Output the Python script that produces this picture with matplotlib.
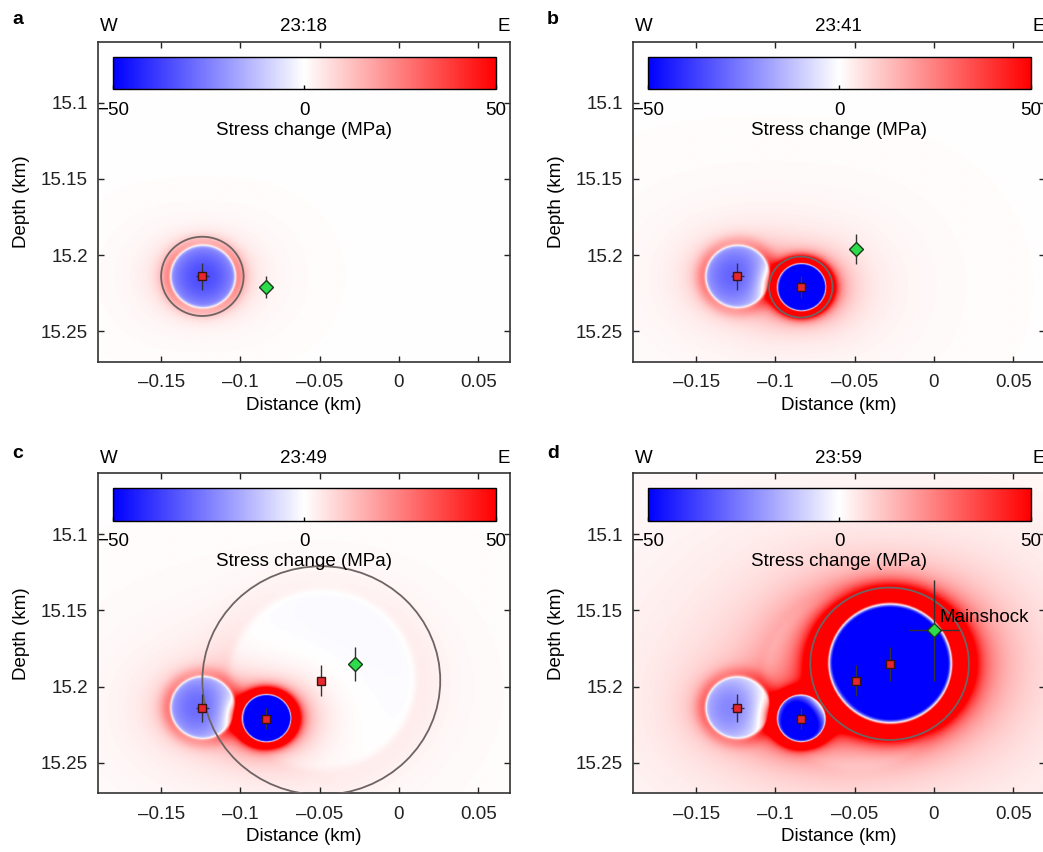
import numpy as np
import matplotlib
matplotlib.use('Agg')
import matplotlib.pyplot as plt
from matplotlib.patches import Circle

plt.rcParams['font.family'] = ['Liberation Sans', 'DejaVu Sans']
plt.rcParams['font.size'] = 13.5

# sub-events: hypocentre, rupture radius, stress drop, rim peak, far-field tail
ev_x = [-0.124, -0.084, -0.049, -0.028]
ev_z = [15.214, 15.221, 15.196, 15.185]
ev_r = [0.026, 0.020, 0.075, 0.050]
ev_drop = [35.0, 90.0, 2.5, 90.0]
ev_rim = [0.25, 0.55, 0.3, 0.55]
ev_tail = [0.45, 0.7, 0.9, 0.75]
ev_xerr = [0.004, 0.003, 0.002, 0.002]
ev_zerr = [0.009, 0.007, 0.010, 0.011]

main_x, main_z = 0.0, 15.163
main_xerr, main_zerr = 0.016, 0.033

times = ['23:18', '23:41', '23:49', '23:59']
letters = ['a', 'b', 'c', 'd']
xticks = [-0.15, -0.1, -0.05, 0, 0.05]
xticklabels = ['\u20130.15', '\u20130.1', '\u20130.05', '0', '0.05']
yticks = [15.1, 15.15, 15.2, 15.25]
yticklabels = ['15.1', '15.15', '15.2', '15.25']
xlim = (-0.19, 0.07)
ylim = (15.27, 15.06)


def stress(k, X, Z):
    dx, dz = X - ev_x[k], Z - ev_z[k]
    r = np.hypot(dx, dz) + 1e-9
    rho = r / ev_r[k]
    aniso = 1 + 0.35 * (dx ** 2 - dz ** 2) / r ** 2
    d = rho - 0.79
    dp = np.clip(d, 0, None)
    rise = 0.5 * (1 + np.tanh(d / 0.04))
    inner = -ev_drop[k] * (1 - 0.4 * (rho / 0.79) ** 2)
    outer = ev_drop[k] * (ev_rim[k] / (1 + (dp / 0.26) ** 4)
                          + ev_tail[k] * aniso * (0.42 / (dp + 0.42)) ** 2)
    return (1 - rise) * inner + rise * outer


gx = np.linspace(xlim[0], xlim[1], 520)
gz = np.linspace(ylim[1], ylim[0], 420)
X, Z = np.meshgrid(gx, gz)

W, H = 1043, 852
fig = plt.figure(figsize=(W / 100, H / 100), dpi=100)
fig.set_facecolor('white')

lefts = [97.7, 632.7]
tops = [41.7, 473.3]
aw, ah = 412.3, 320.0

for p in range(4):
    col, row = p % 2, p // 2
    ax = fig.add_axes([lefts[col] / W, 1 - (tops[row] + ah) / H, aw / W, ah / H])

    field = np.zeros_like(X)
    for k in range(p + 1):
        field += stress(k, X, Z)
    im = ax.imshow(field, extent=(xlim[0], xlim[1], ylim[0], ylim[1]), origin='upper',
                   cmap='bwr', vmin=-50, vmax=50, aspect='auto', interpolation='bilinear')

    # outline of the latest rupture
    ax.add_patch(Circle((ev_x[p], ev_z[p]), ev_r[p], fill=False, ec='#6e6464', lw=1.3, zorder=3))

    # located hypocentres so far
    ax.errorbar(ev_x[:p + 1], ev_z[:p + 1], xerr=ev_xerr[:p + 1], yerr=ev_zerr[:p + 1],
                fmt='none', ecolor='#333333', elinewidth=1, capsize=0, zorder=4)
    ax.plot(ev_x[:p + 1], ev_z[:p + 1], 's', ms=6, mfc='#e8262b', mec='#3a1212', mew=1, zorder=5)

    # next event
    if p < 3:
        nx, nz, nxe, nze = ev_x[p + 1], ev_z[p + 1], ev_xerr[p + 1], ev_zerr[p + 1]
    else:
        nx, nz, nxe, nze = main_x, main_z, main_xerr, main_zerr
        ax.text(0.0032, 15.1546, 'Mainshock', ha='left', va='center', zorder=6)
    ax.errorbar([nx], [nz], xerr=[nxe], yerr=[nze], fmt='none', ecolor='#333333',
                elinewidth=1, capsize=0, zorder=4)
    ax.plot([nx], [nz], 'D', ms=7, mfc='#2ddc4a', mec='#1c3a1c', mew=1, zorder=5)

    ax.set_xlim(*xlim)
    ax.set_ylim(*ylim)
    ax.set_xticks(xticks)
    ax.set_xticklabels(xticklabels)
    ax.set_yticks(yticks)
    ax.set_yticklabels(yticklabels)
    ax.tick_params(direction='in', length=4, width=1, top=True, right=True,
                   colors='#222222', labelcolor='#222222')
    ax.tick_params(axis='x', pad=9)
    ax.tick_params(axis='y', pad=7)
    for s in ax.spines.values():
        s.set_linewidth(1.2)
        s.set_color('#333333')
    ax.set_xlabel('Distance (km)', labelpad=4)
    ax.set_ylabel('Depth (km)', labelpad=8)

    ax.text(0.006, 1.046, 'W', transform=ax.transAxes, ha='left', va='center')
    ax.text(1.0, 1.046, 'E', transform=ax.transAxes, ha='right', va='center')
    ax.text(0.5, 1.046, times[p], transform=ax.transAxes, ha='center', va='center')

    cax = ax.inset_axes([0.037, 0.851, 0.928, 0.102])
    cb = fig.colorbar(im, cax=cax, orientation='horizontal', ticks=[-50, 0, 50])
    cb.set_ticklabels(['\u221250', '0', '50'])
    cb.outline.set_linewidth(1.0)
    cax.tick_params(direction='in', length=3, width=1, pad=9)
    cb.set_label('Stress change (MPa)', labelpad=2)

    fig.text((18 + 535 * col) / W, 1 - (20 + 434 * row) / H, letters[p],
             fontweight='bold', fontsize=14, ha='center', va='center')

fig.savefig('out.png', dpi=100)
